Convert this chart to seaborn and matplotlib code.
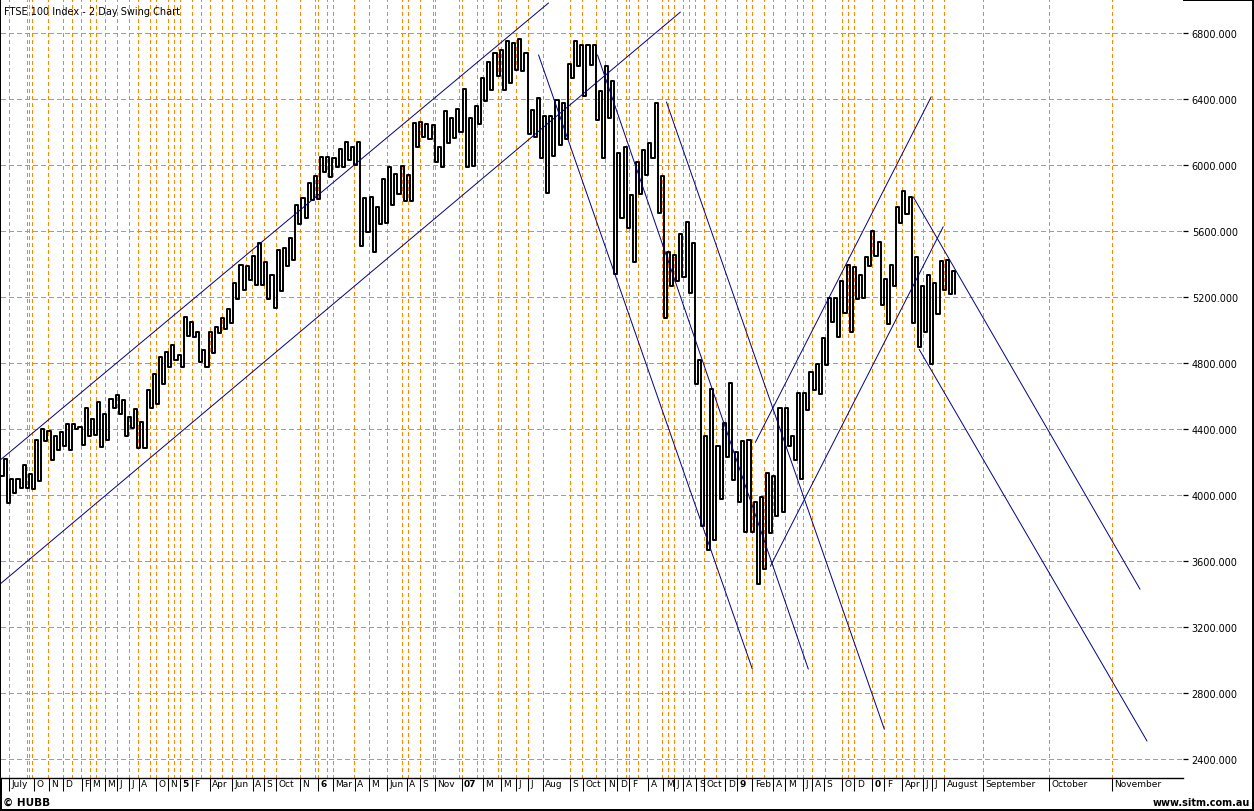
import numpy as np
import pandas as pd
import matplotlib
matplotlib.use("Agg")
import matplotlib.pyplot as plt
import matplotlib.transforms as mtransforms
import seaborn as sns

TITLE = "FTSE 100 Index - 2 Day Swing Chart"

# ---- swing extremes (alternating highs / lows) ----
swings_2004_05 = [4115, 4220, 3950, 4095, 4010, 4095, 4045, 4180, 4045, 4130,
                  4035, 4335, 4085, 4400, 4330, 4385, 4210, 4355, 4275, 4380,
                  4300, 4430, 4275, 4430, 4400, 4415, 4305, 4530, 4355, 4460,
                  4365, 4565, 4290, 4490, 4335, 4580, 4525, 4605, 4490, 4575,
                  4360, 4475, 4405, 4520, 4285, 4440, 4285, 4635, 4530, 4735,
                  4550, 4835, 4675, 4865, 4775, 4910, 4820, 4850, 4775, 5080,
                  4965, 5050, 4960, 4990, 4805, 4880, 4775, 4990, 4860, 5020,
                  4980, 5075, 5005, 5130, 5040, 5285, 5185]
swings_2006_07 = [5395, 5245, 5390, 5305, 5450, 5275, 5525, 5275, 5415, 5185,
                  5335, 5135, 5485, 5235, 5495, 5390, 5560, 5425, 5755, 5645,
                  5800, 5680, 5890, 5785, 5935, 5795, 6050, 5960, 6050, 5930,
                  6045, 5990, 6100, 5985, 6140, 6030, 6110, 6000, 6140, 5510,
                  5800, 5595, 5805, 5470, 5745, 5640, 5915, 5650, 5990, 5755,
                  5945, 5825, 5995, 5780, 5940, 5780, 6255, 6110, 6260, 6170,
                  6250, 6160, 6240, 6020, 6110, 5990, 6330, 6135, 6285, 6165,
                  6340, 6200, 6460, 5990, 6285, 5995, 6360, 6250, 6530, 6390,
                  6625, 6455, 6680, 6540, 6700, 6455, 6750, 6500, 6740, 6575,
                  6765, 6570, 6680, 6190, 6335, 6170, 6405, 6045, 6300, 5830,
                  6300, 6055, 6395, 6120, 6375, 6160]
swings_2007_08 = [6615, 6530, 6750, 6600, 6730, 6420, 6730, 6605, 6730, 6275,
                  6450, 6040, 6600, 6285, 6510, 5340, 6075, 5680, 6110, 5620,
                  5820, 5415, 6020, 5825, 6090, 5940, 6135, 6045, 6375, 5710,
                  5935, 5075, 5475, 5265, 5455, 5300, 5580, 5320, 5655, 5225,
                  5530, 4670]
swings_2008_09 = [4820, 3810, 4355, 3665, 4645, 3730, 4295, 3975, 4435, 4230,
                  4680, 4090, 4260, 3955, 4325, 3775, 4335, 3775, 3955, 3460,
                  3990, 3550, 4135, 3770, 4115, 3875, 4525, 3900, 4525, 4295,
                  4355, 4215, 4620, 4095, 4620, 4515, 4745, 4635, 4795, 4610]
swings_2009_10 = [4950, 4785, 5195, 5050, 5195, 4955, 5300, 5105, 5395, 4985,
                  5380, 5185, 5335, 5195, 5445, 5390, 5600, 5450, 5535, 5150,
                  5310, 5035, 5395, 5265, 5745, 5650, 5840, 5705, 5805, 5045,
                  5440, 4900, 5265, 4990, 5335, 4795, 5285, 5095, 5420, 5245,
                  5425, 5220, 5355, 5220]

# ---- compressed swing-time axis (chart position units) ----
gridline_pos = [8, 26, 28, 31, 47, 62, 71, 80, 89, 95, 104, 116, 128, 137, 149,
                155, 167, 173, 179, 191, 200, 209, 221, 231, 245, 251, 263, 275,
                299, 314, 317, 326, 332, 353, 368, 386, 401, 407, 419, 432, 434,
                458, 461, 476, 482, 497, 500, 515, 527, 542, 569, 581, 596, 605,
                617, 626, 629, 638, 647, 662, 668, 674, 683, 689, 695, 704, 716,
                725, 737, 746, 752, 764, 773, 785, 797, 803, 812, 825, 842, 848,
                854, 872, 884, 896, 902, 914, 923, 932, 944, 983, 1049, 1112]
month_labels = ["July", "O", "N", "D", "F", "M", "M", "J", "J", "A", "O", "N",
                "5", "F", "Apr", "Jun", "A", "S", "Oct", "N", "6", "Mar", "A",
                "M", "Jun", "A", "S", "Nov", "07", "M", "M", "J", "J", "Aug",
                "S", "Oct", "N", "D", "F", "A", "M", "J", "A", "S", "Oct", "D",
                "9", "Feb", "A", "M", "J", "A", "S", "O", "D", "0", "F", "Apr",
                "J", "J", "August", "September", "October", "November"]
month_label_pos = [8, 33, 48, 62, 81, 89, 104, 116, 128, 138, 155, 167,
                   179, 191, 209, 231, 252, 263, 275, 299, 317, 332, 354,
                   368, 386, 406, 419, 434, 461, 482, 500, 515, 527, 542,
                   569, 582, 605, 617, 629, 648, 663, 674, 683, 696, 704, 725,
                   737, 752, 773, 785, 803, 812, 824, 842, 854, 872, 884, 902,
                   923, 932, 944, 983, 1049, 1112]
year_labels = ["5", "6", "07", "9", "0"]

price_ticks = list(range(2400, 6801, 400))

# ---- hand-drawn trend / channel lines ----
trend_start_pos = [0, 0, 538, 597, 666, 755, 770, 913, 919]
trend_start_price = [4216, 3465, 6667, 6667, 6382, 4319, 3568, 5807, 4882]
trend_end_pos = [548, 680, 752, 808, 884, 931, 943, 1140, 1147]
trend_end_price = [6982, 6927, 2945, 2945, 2582, 6413, 5626, 3429, 2509]

SWING_STEP = 3.1
X_MAX = 1183
Y_MIN, Y_MAX = 2285, 7000
ORANGE = "#ff8800"
NAVY = "#000080"

prices = (swings_2004_05 + swings_2006_07 + swings_2007_08 +
          swings_2008_09 + swings_2009_10)
df = pd.DataFrame({"pos": np.arange(len(prices)) * SWING_STEP,
                   "price": prices})

sns.set_theme(style="white")
plt.rcParams["font.family"] = ["DejaVu Sans"]

W, H = 1254, 812
fig = plt.figure(figsize=(W / 100, H / 100), dpi=100,
                 facecolor="white", edgecolor="black", linewidth=1.5)
ax = fig.add_axes([1 / W, (H - 779) / H, (X_MAX - 1) / W, 778 / H])
ax.set_facecolor("white")

# grid
ax.vlines(gridline_pos, 0, 1, transform=ax.get_xaxis_transform(),
          colors=ORANGE, linewidth=0.75, linestyles=(0, (3, 3)),
          antialiased=False, zorder=1)
ax.hlines(price_ticks, 0, 1, transform=ax.get_yaxis_transform(),
          colors=ORANGE, linewidth=0.75, linestyles=(0, (4, 3)),
          antialiased=False, zorder=1)

# swing line
sns.lineplot(data=df, x="pos", y="price", ax=ax, estimator=None, sort=False,
             drawstyle="steps-post", color="black", linewidth=1.4,
             antialiased=True, zorder=3)

# trend lines
for x0, p0, x1, p1 in zip(trend_start_pos, trend_start_price,
                          trend_end_pos, trend_end_price):
    ax.plot([x0, x1], [p0, p1], color=NAVY, linewidth=0.7,
            antialiased=True, zorder=4)

ax.set_xlim(0, X_MAX)
ax.set_ylim(Y_MIN, Y_MAX)
ax.set_xlabel("")
ax.set_ylabel("")

for s in ["left", "top", "right"]:
    ax.spines[s].set_visible(False)
ax.spines["bottom"].set_color("black")
ax.spines["bottom"].set_linewidth(1.0)

# x ticks
ax.set_xticks(month_label_pos)
ax.set_xticklabels(month_labels)
ax.tick_params(axis="x", direction="out", length=9, width=0.75, color="black",
               pad=-8.2, labelsize=6.5, labelcolor="black", bottom=True)
offset = mtransforms.ScaledTranslation(2.5 / 100, 0, fig.dpi_scale_trans)
for lbl in ax.get_xticklabels():
    lbl.set_horizontalalignment("left")
    lbl.set_transform(lbl.get_transform() + offset)
    if lbl.get_text() in year_labels:
        lbl.set_fontweight("bold")

# y ticks on the right
ax.yaxis.tick_right()
ax.set_yticks(price_ticks)
ax.set_yticklabels([f"{v:.3f}" for v in price_ticks])
ax.tick_params(axis="y", direction="out", length=3.8, width=0.9,
               color="black", pad=2.5, labelsize=7, labelcolor="black",
               right=True, left=False)

fig.text(4 / W, 1 - 12 / H, TITLE, fontsize=7, color="black",
         ha="left", va="center")
fig.text(3 / W, 1 - 803 / H, "\u00a9 HUBB", fontsize=7.5, fontweight="bold",
         color="black", ha="left", va="center")
fig.text(1250 / W, 1 - 803 / H, "www.sitm.com.au", fontsize=7,
         fontweight="bold", color="black", ha="right", va="center")

fig.savefig("out.png", dpi=100, facecolor="white", edgecolor="black")
